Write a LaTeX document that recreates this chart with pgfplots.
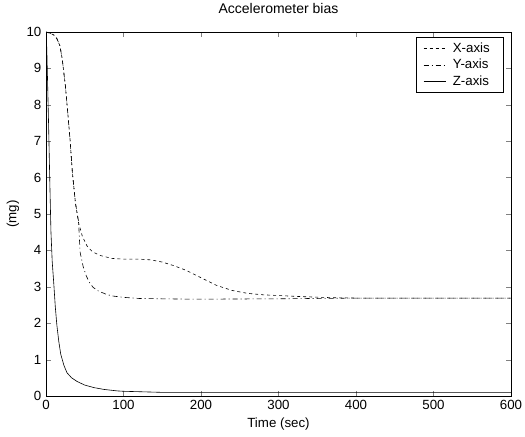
\documentclass[border=0pt]{standalone}
\usepackage{fontspec}
\setmainfont{Liberation Sans}
\usepackage{pgfplots}
\pgfplotsset{compat=1.18}
\pgfplotsset{mylegline/.style={legend image code/.code={\draw[##1] (0pt,0pt) -- (22pt,0pt);}}}

\begin{document}
\fontsize{13.3}{15}\selectfont
\begin{tikzpicture}
\begin{axis}[
    name=main,
    scale only axis,
    width=465pt,
    height=364pt,
    xmin=0, xmax=600,
    ymin=0, ymax=10,
    xtick={0,100,...,600},
    ytick={0,1,...,10},
    tick align=inside,
    major tick length=5pt,
    /pgf/number format/assume math mode=true,
    tick label style={font=\fontsize{13.3}{15}\selectfont},
    title={Accelerometer bias},
    xlabel={Time (sec)},
    ylabel={(mg)},
    title style={at={(axis description cs:0.5,1.047)}, anchor=center, font=\fontsize{14}{16}\selectfont},
    every axis x label/.style={at={(axis description cs:0.5,-0.078)}, anchor=center, font=\fontsize{13.3}{15}\selectfont},
    every axis y label/.style={at={(axis description cs:-0.071,0.5)}, rotate=90, anchor=center, font=\fontsize{13.3}{15}\selectfont},
    axis line style={line width=0.8pt},
    legend style={at={(0.983,0.986)}, anchor=north east, draw=black,
        line width=0.6pt,
        font=\fontsize{13.3}{15}\selectfont, cells={anchor=west},
        inner xsep=7pt, inner ysep=3pt, row sep=1pt,
        /tikz/every odd column/.append style={column sep=5pt}},
    legend cell align=left,
]
\addplot[black, line width=0.6pt, dash pattern=on 3pt off 3pt, mylegline] coordinates {
    (0,10) (5,9.97) (10,9.92) (14,9.82) (18,9.62) (21,9.25) (25,8.52)
    (28,7.8) (31,7.05) (34,6.15) (38,5.3) (42,4.76) (47,4.38) (53,4.12)
    (60,3.96) (70,3.86) (85,3.78) (100,3.76) (120,3.76) (135,3.74)
    (150,3.68) (165,3.58) (180,3.46) (200,3.25) (220,3.04) (240,2.9)
    (260,2.82) (280,2.78) (300,2.76) (330,2.73) (370,2.70) (400,2.69)
    (450,2.69) (500,2.69) (600,2.69)
};
\addlegendentry{X-axis\hspace*{4pt}}
\addplot[black, line width=0.6pt, dash pattern=on 5pt off 3pt on 1pt off 3pt, mylegline] coordinates {
    (0,10) (5,9.97) (10,9.92) (14,9.82) (18,9.62) (21,9.25) (25,8.52)
    (28,7.8) (31,7.05) (34,6.15) (38,5.3) (42,4.8) (44,3.95) (48,3.55)
    (52,3.3) (56,3.12) (61,2.98) (68,2.88) (77,2.8) (85,2.75) (100,2.71)
    (120,2.68) (150,2.67) (190,2.66) (300,2.67) (400,2.69) (600,2.69)
};
\addlegendentry{Y-axis\hspace*{4pt}}
\addplot[black, line width=0.6pt, mylegline] coordinates {
    (0,10) (0.5,9.9) (1.3,9.3) (2.3,8.4) (3.4,7.4) (5,5.8) (6.4,4.5)
    (8,3.7) (10,3.1) (12,2.45) (14,1.95) (16.5,1.5) (19,1.15) (23,0.85)
    (27,0.64) (33,0.5) (40,0.4) (50,0.3) (62,0.23) (75,0.18) (92,0.14)
    (100,0.13) (150,0.1) (600,0.1)
};
\addlegendentry{Z-axis\hspace*{4pt}}
\end{axis}
\pgfresetboundingbox
\path ([shift={(-46pt,-40pt)}]main.south west) rectangle ([shift={(14pt,32pt)}]main.north east);
\end{tikzpicture}
\end{document}
